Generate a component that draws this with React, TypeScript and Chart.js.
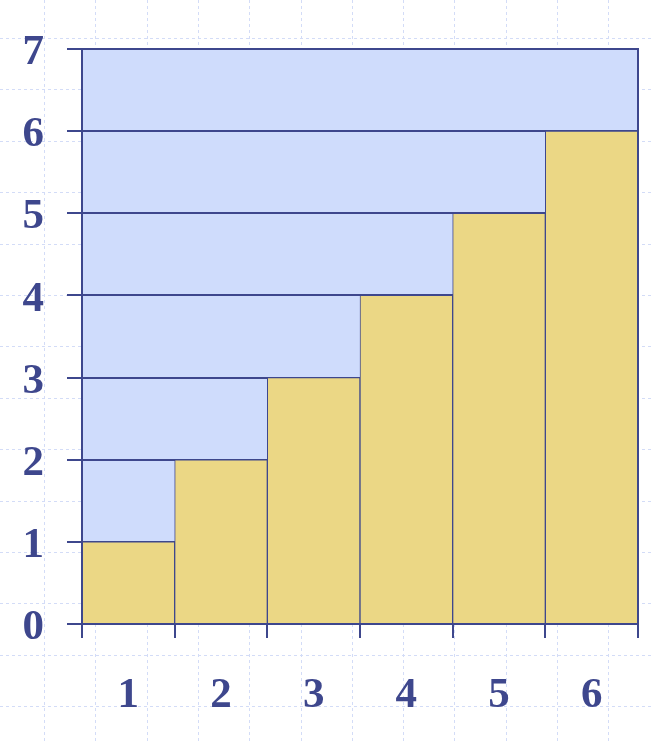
import React, { useEffect, useRef } from "react";
import { Chart, registerables } from "chart.js";

Chart.register(...registerables);

// Yellow staircase: column heights for categories 1..6
const categories = ["1", "2", "3", "4", "5", "6"];
const yellowHeights = [1, 2, 3, 4, 5, 6];
// Blue staircase: horizontal row lengths, rows listed top (6–7) to bottom (0–1)
const blueRowLabels = ["6–7", "5–6", "4–5", "3–4", "2–3", "1–2", "0–1"];
const blueRowLengths = [6, 5, 4, 3, 2, 1, 0];
const yTickValues = [0, 1, 2, 3, 4, 5, 6, 7];

const NAVY = "#3E478D";
const BLUE = "#CFDCFC";
const YELLOW = "#EBD785";
const W = 651;
const H = 742;
const PAD = { left: 82, top: 49, right: 13, bottom: 118 };

const paperPlugin = {
  id: "paper",
  beforeDraw(chart: any) {
    const ctx = chart.ctx;
    ctx.save();
    ctx.strokeStyle = "#D3DCF7";
    ctx.lineWidth = 1;
    ctx.setLineDash([3, 3]);
    for (let x = 44; x < W; x += 51.3) {
      ctx.beginPath();
      ctx.moveTo(Math.round(x) + 0.5, 0);
      ctx.lineTo(Math.round(x) + 0.5, H);
      ctx.stroke();
    }
    for (let y = 38; y < H; y += 51.4) {
      ctx.beginPath();
      ctx.moveTo(0, Math.round(y) + 0.5);
      ctx.lineTo(W, Math.round(y) + 0.5);
      ctx.stroke();
    }
    ctx.restore();
  },
};

export default function App() {
  const backRef = useRef<HTMLCanvasElement>(null);
  const frontRef = useRef<HTMLCanvasElement>(null);

  useEffect(() => {
    const back = new Chart(backRef.current!, {
      type: "bar",
      data: {
        labels: blueRowLabels,
        datasets: [
          {
            data: blueRowLengths,
            backgroundColor: BLUE,
            borderWidth: 0,
            barPercentage: 1,
            categoryPercentage: 1,
          },
        ],
      },
      options: {
        indexAxis: "y",
        responsive: false,
        animation: false,
        layout: { padding: PAD },
        plugins: { legend: { display: false }, tooltip: { enabled: false } },
        scales: {
          x: { type: "linear", min: 0, max: 6, display: false },
          y: { type: "category", display: false },
        },
      },
      plugins: [paperPlugin],
    });

    const tickFont = { family: "'Liberation Serif', 'Times New Roman', serif", size: 43, weight: "bold" as const };

    const front = new Chart(frontRef.current!, {
      type: "bar",
      data: {
        labels: categories,
        datasets: [
          {
            data: yellowHeights,
            backgroundColor: YELLOW,
            borderColor: NAVY,
            borderWidth: 1,
            borderSkipped: "start",
            barPercentage: 1,
            categoryPercentage: 1,
          },
        ],
      },
      options: {
        responsive: false,
        animation: false,
        layout: { padding: { left: 0, top: PAD.top, right: PAD.right, bottom: 0 } },
        plugins: { legend: { display: false }, tooltip: { enabled: false } },
        scales: {
          x: {
            type: "category",
            offset: true,
            grid: {
              offset: true,
              drawOnChartArea: false,
              color: NAVY,
              lineWidth: 2,
              tickLength: 14,
            },
            border: { display: true, color: NAVY, width: 2, z: 1 },
            ticks: { color: NAVY, font: tickFont, padding: 32, maxRotation: 0 },
            afterFit: (s: any) => {
              s.height = PAD.bottom;
            },
          },
          y: {
            type: "linear",
            min: 0,
            max: 7,
            afterBuildTicks: (s: any) => {
              s.ticks = yTickValues.map((v) => ({ value: v }));
            },
            grid: { color: NAVY, lineWidth: 2, tickLength: 15 },
            border: { display: true, color: NAVY, width: 2, z: 1 },
            ticks: { color: NAVY, font: tickFont, padding: 23, labelOffset: 4 },
            afterFit: (s: any) => {
              s.width = PAD.left;
            },
          },
          y2: {
            type: "linear",
            position: "right",
            min: 0,
            max: 7,
            grid: { display: false, drawTicks: false },
            ticks: { display: false },
            border: { display: true, color: NAVY, width: 2, z: 1 },
            afterFit: (s: any) => {
              s.width = 0;
            },
          },
        },
      },
    });

    return () => {
      back.destroy();
      front.destroy();
    };
  }, []);

  return (
    <div style={{ position: "absolute", left: 0, top: 0, width: W, height: H, background: "#fff" }}>
      <canvas ref={backRef} width={W} height={H} style={{ position: "absolute", left: 0, top: 0 }} />
      <canvas ref={frontRef} width={W} height={H} style={{ position: "absolute", left: 0, top: 0 }} />
    </div>
  );
}
